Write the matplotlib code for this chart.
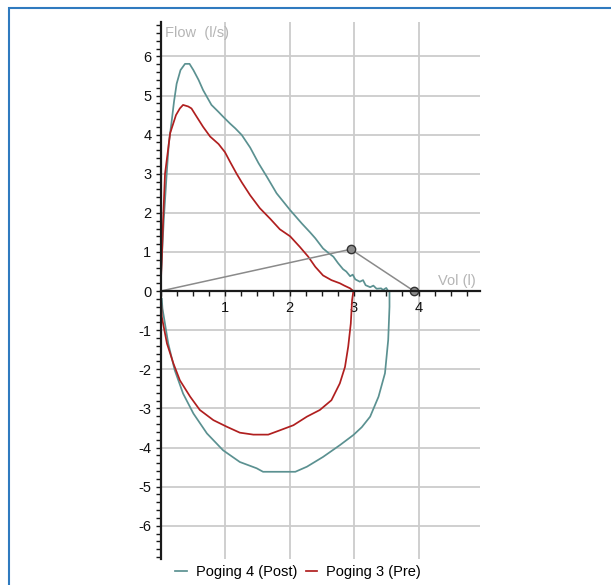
import matplotlib
matplotlib.use("Agg")
import matplotlib.pyplot as plt
from matplotlib.patches import Rectangle
from matplotlib.ticker import MultipleLocator, FixedLocator
import numpy as np

plt.rcParams['font.family'] = ['Liberation Sans', 'DejaVu Sans']

# ---- data ----
post_exp_vol = [0.0, 0.01, 0.05, 0.096, 0.13, 0.17, 0.21, 0.25, 0.31, 0.38, 0.45, 0.51, 0.59, 0.66,
                0.79, 0.90, 0.97, 1.08, 1.16, 1.26, 1.39, 1.52, 1.65, 1.80, 2.01, 2.19, 2.32, 2.40,
                2.52, 2.60, 2.68, 2.75, 2.83, 2.88, 2.94, 2.98, 3.02, 3.09, 3.14, 3.18, 3.25, 3.30,
                3.35, 3.42, 3.45, 3.50, 3.53, 3.55]
post_exp_flow = [0.0, 0.5, 1.8, 3.0, 3.8, 4.3, 4.85, 5.3, 5.65, 5.81, 5.81, 5.65, 5.40, 5.14,
                 4.76, 4.58, 4.46, 4.28, 4.16, 3.99, 3.67, 3.27, 2.92, 2.50, 2.07, 1.73, 1.50, 1.35,
                 1.09, 0.98, 0.88, 0.72, 0.56, 0.50, 0.38, 0.42, 0.30, 0.24, 0.28, 0.15, 0.10, 0.14,
                 0.06, 0.07, 0.03, 0.08, 0.0, 0.0]
post_insp_vol = [0.02, 0.03, 0.12, 0.22, 0.35, 0.51, 0.72, 0.97, 1.23, 1.49, 1.59, 2.09, 2.27,
                 2.52, 2.78, 2.99, 3.12, 3.25, 3.38, 3.48, 3.53, 3.55, 3.55]
post_insp_flow = [-0.2, -0.44, -1.34, -2.02, -2.62, -3.13, -3.64, -4.07, -4.37, -4.53, -4.62, -4.62,
                  -4.49, -4.24, -3.94, -3.68, -3.48, -3.21, -2.70, -2.10, -1.25, -0.40, 0.0]

pre_exp_vol = [0.0, 0.02, 0.04, 0.07, 0.15, 0.24, 0.30, 0.35, 0.43, 0.48, 0.56, 0.66, 0.77, 0.90,
               1.00, 1.08, 1.18, 1.26, 1.39, 1.54, 1.70, 1.85, 2.01, 2.16, 2.29, 2.40, 2.52, 2.65,
               2.78, 2.85, 2.94, 2.99]
pre_exp_flow = [0.0, 0.8, 1.8, 3.0, 4.04, 4.5, 4.67, 4.76, 4.72, 4.67, 4.46, 4.20, 3.95, 3.76,
                3.55, 3.30, 3.00, 2.78, 2.45, 2.12, 1.85, 1.58, 1.40, 1.13, 0.88, 0.62, 0.40, 0.28,
                0.20, 0.14, 0.07, 0.0]
pre_insp_vol = [0.01, 0.02, 0.10, 0.20, 0.30, 0.46, 0.61, 0.82, 1.03, 1.23, 1.44, 1.67, 1.85, 2.06,
                2.27, 2.47, 2.65, 2.78, 2.86, 2.91, 2.95, 2.97, 2.99]
pre_insp_flow = [-0.3, -0.66, -1.34, -1.85, -2.28, -2.70, -3.04, -3.30, -3.47, -3.62, -3.67, -3.67,
                 -3.56, -3.43, -3.21, -3.04, -2.79, -2.36, -1.94, -1.42, -0.83, -0.23, 0.0]

tri_vol = [0.0, 2.95, 3.93]
tri_flow = [0.0, 1.07, 0.0]

series_labels = ["Poging 4 (Post)", "Poging 3 (Pre)"]
x_tick_vals = [1, 2, 3, 4]
y_tick_vals = list(range(-6, 7))

teal = "#5b9191"
red = "#b01f1f"

fig = plt.figure(figsize=(6.11, 5.85), dpi=100)
W, H = 611, 585
left_px, right_px, top_px, bottom_px = 160.5, 479.8, 22, 559
ax = fig.add_axes([left_px / W, 1 - bottom_px / H, (right_px - left_px) / W, (bottom_px - top_px) / H])
ax.set_xlim(0, 4.95)
ax.set_ylim(-6.85, 6.88)

# curves
pv = list(post_exp_vol) + list(post_insp_vol[::-1])
pf = list(post_exp_flow) + list(post_insp_flow[::-1])
rv = list(pre_exp_vol) + list(pre_insp_vol[::-1])
rf = list(pre_exp_flow) + list(pre_insp_flow[::-1])
l1, = ax.plot(pv, pf, color=teal, lw=1.25, zorder=3, label=series_labels[0])
l2, = ax.plot(rv, rf, color=red, lw=1.25, zorder=3, label=series_labels[1])

ax.plot(tri_vol, tri_flow, color="#8a8a8a", lw=1.1, zorder=4)
ax.plot(tri_vol[1:], tri_flow[1:], 'o', ms=6, mfc="#8c8c8c", mec="#333333", mew=1.0, zorder=5)

# axes styling
for s in ['top', 'right']:
    ax.spines[s].set_visible(False)
ax.spines['bottom'].set_position(('data', 0))
ax.spines['left'].set_color('#1a1a1a')
ax.spines['bottom'].set_color('#1a1a1a')
ax.spines['left'].set_linewidth(1.6)
ax.spines['bottom'].set_linewidth(1.6)
ax.spines['left'].set_zorder(6)
ax.spines['bottom'].set_zorder(6)

ax.xaxis.set_major_locator(FixedLocator(x_tick_vals))
ax.xaxis.set_minor_locator(MultipleLocator(0.25))
ax.yaxis.set_major_locator(FixedLocator(y_tick_vals))
ax.yaxis.set_minor_locator(MultipleLocator(0.2))
ax.set_xticklabels([str(v) for v in x_tick_vals])
ax.set_yticklabels([str(v) for v in y_tick_vals])
ax.tick_params(axis='both', which='both', direction='out', length=3.5, width=1.0, color='#1a1a1a',
               labelsize=10.5, labelcolor='#111111')
ax.tick_params(axis='x', which='major', pad=3.5)
ax.tick_params(axis='y', which='major', pad=3)

ax.grid(True, which='major', color='#cccccc', lw=1.3, zorder=0)
ax.set_axisbelow(True)

fig.text(165 / W, 1 - 33 / H, "Flow  (l/s)", color="#b5b5b5", fontsize=10.5, va='center', ha='left')
fig.text(438 / W, 1 - 281 / H, "Vol (l)", color="#b5b5b5", fontsize=10.5, va='center', ha='left')

fig.legend(handles=[l1, l2], labels=series_labels, loc='center', bbox_to_anchor=(298 / W, 1 - 572 / H),
           ncol=2, frameon=False, fontsize=10.5, handlelength=0.8, handletextpad=0.6,
           columnspacing=0.6, borderpad=0)

# figure border
fig.patches.append(Rectangle((8.5 / W, -0.05), 1.1, 1 - 7.5 / H + 0.05, transform=fig.transFigure,
                             fill=False, edgecolor='#2f7abf', lw=1.5))

fig.savefig("out.png", dpi=100)
